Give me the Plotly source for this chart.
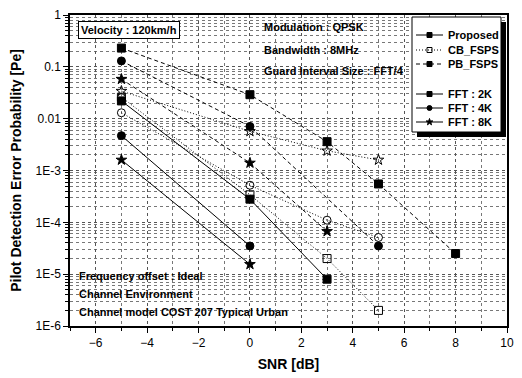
import plotly.graph_objects as go

# ---- data ----
prop_2k_x = [-5, 0, 3]
prop_2k_y = [0.022, 2.8e-4, 8e-6]
prop_4k_x = [-5, 0]
prop_4k_y = [0.0047, 3.5e-5]
prop_8k_x = [-5, 0]
prop_8k_y = [0.0016, 1.55e-5]

cb_2k_x = [-5, 0, 3, 5]
cb_2k_y = [0.026, 3.4e-4, 2.0e-5, 2.0e-6]
cb_4k_x = [-5, 0, 3, 5]
cb_4k_y = [0.013, 5.2e-4, 1.1e-4, 5.1e-5]
cb_8k_x = [-5, 0, 3, 5]
cb_8k_y = [0.034, 5.7e-3, 2.4e-3, 1.6e-3]

pb_2k_x = [-5, 0, 3, 5, 8]
pb_2k_y = [0.23, 0.029, 0.0036, 5.5e-4, 2.5e-5]
pb_4k_x = [-5, 0, 5]
pb_4k_y = [0.13, 0.0071, 3.5e-5]
pb_8k_x = [-5, 0, 3]
pb_8k_y = [0.058, 0.0014, 6.7e-5]

y_tickvals = [1, 0.1, 0.01, 1e-3, 1e-4, 1e-5, 1e-6]
y_ticktext = ["1", "0.1", "0.01", "1E-3", "1E-4", "1E-5", "1E-6"]

legend_methods = ["Proposed", "CB_FSPS", "PB_FSPS"]
legend_ffts = ["FFT : 2K", "FFT : 4K", "FFT : 8K"]

FONT = "Liberation Sans, Arial, sans-serif"
DASH = "4px,3px"
DOT = "1px,2px"

fig = go.Figure()

def add(x, y, dash, symbol):
    fig.add_trace(go.Scatter(
        x=x, y=y, mode="lines+markers", showlegend=False, hoverinfo="skip",
        line=dict(color="black", width=1, dash=dash),
        marker=dict(symbol=symbol, size=8, color="black",
                    line=dict(color="black", width=1))))

add(pb_2k_x, pb_2k_y, DASH, "square")
add(pb_4k_x, pb_4k_y, DASH, "circle")
add(pb_8k_x, pb_8k_y, DASH, "star")
add(cb_2k_x, cb_2k_y, DOT, "square-open")
add(cb_4k_x, cb_4k_y, DOT, "circle-open")
add(cb_8k_x, cb_8k_y, DOT, "star-open")
add(prop_2k_x, prop_2k_y, "solid", "square")
add(prop_4k_x, prop_4k_y, "solid", "circle")
add(prop_8k_x, prop_8k_y, "solid", "star")

# page layout (the page body has an 8px default margin)
OFF = 8
W, H = 522, 378
PL, PR, PT, PB = 70, 507, 15, 326   # plot area in page pixels
L, T = PL - OFF, PT - OFF
R, B = W - (PR - OFF), H - (PB - OFF)
pw, ph = PR - PL, PB - PT

def px(x):
    return (x - PL) / pw

def py(y):
    return (PB - y) / ph

# ---- hand-drawn legend on an overlay (paper-like) axis ----
bx0, bx1, by0, by1 = 412, 501, 17, 132
sh = 5

def rect(x0, x1, y0, y1, fill, line_w):
    fig.add_trace(go.Scatter(
        x=[px(x0), px(x1), px(x1), px(x0), px(x0)],
        y=[py(y0), py(y0), py(y1), py(y1), py(y0)],
        mode="lines", fill="toself", fillcolor=fill, hoverinfo="skip",
        line=dict(color="black", width=line_w), showlegend=False,
        xaxis="x2", yaxis="y2"))

rect(bx0 + sh, bx1 + sh, by0 + sh, by1 + sh, "black", 0)
rect(bx0, bx1, by0, by1, "white", 1)

rows = [35, 50, 64, 94, 108, 122]
names = legend_methods + legend_ffts
dashes = ["solid", DOT, DASH, "solid", "solid", "solid"]
syms = ["square", "square-open", "square", "square", "circle", "star"]
anns = []
for r, n, d, s in zip(rows, names, dashes, syms):
    fig.add_trace(go.Scatter(
        x=[px(416), px(443)], y=[py(r), py(r)], mode="lines",
        line=dict(color="black", width=1, dash=d), showlegend=False,
        hoverinfo="skip", xaxis="x2", yaxis="y2"))
    fig.add_trace(go.Scatter(
        x=[px(429.5)], y=[py(r)], mode="markers", showlegend=False,
        hoverinfo="skip", xaxis="x2", yaxis="y2",
        marker=dict(symbol=s, size=5, color="black",
                    line=dict(color="black", width=1))))
    anns.append(dict(text="<b>%s</b>" % n, x=px(446), y=py(r), xref="paper",
                     yref="paper", xanchor="left", yanchor="middle",
                     showarrow=False, font=dict(size=11, family=FONT, color="black")))

notes = [
    ("Modulation : QPSK", 262, 27),
    ("Bandwidth : 8MHz", 262, 50),
    ("Guard Interval Size : FFT/4", 262, 71),
    ("Frequency offset : Ideal", 77, 276),
    ("Channel Environment", 77, 294),
    ("Channel model COST 207 Typical Urban", 77, 312),
]
for t, x, y in notes:
    anns.append(dict(text="<b>%s</b>" % t, x=px(x), y=py(y), xref="paper",
                     yref="paper", xanchor="left", yanchor="middle",
                     showarrow=False, font=dict(size=11, family=FONT, color="black")))
anns.append(dict(text="<b>Velocity : 120km/h</b>", x=px(78), y=py(21), xref="paper",
                 yref="paper", xanchor="left", yanchor="top", showarrow=False,
                 bordercolor="black", borderwidth=1, bgcolor="white", borderpad=2,
                 font=dict(size=11, family=FONT, color="black")))

minor_y = [k * 10.0 ** e for e in range(-6, 0) for k in range(2, 10)]

xaxis = dict(
    range=[-7, 10], dtick=2, tick0=0, showline=True, linecolor="black",
    linewidth=1.5, mirror=True, ticks="outside", ticklen=5, tickcolor="black",
    showgrid=True, gridcolor="#555", griddash="dot", gridwidth=1, zeroline=False,
    tickfont=dict(size=12, family=FONT), automargin=False,
    minor=dict(dtick=1, ticks="outside", ticklen=3, showgrid=True,
               gridcolor="#777", griddash="dot"),
    title=dict(text="<b>SNR [dB]</b>", font=dict(size=14, family=FONT), standoff=10),
)
yaxis = dict(
    type="log", range=[-6, 0], tickvals=y_tickvals, ticktext=y_ticktext,
    showline=True, linecolor="black", linewidth=1.5, mirror=True,
    ticks="outside", ticklen=5, tickcolor="black", automargin=False,
    showgrid=True, gridcolor="#555", griddash="dot", zeroline=False,
    tickfont=dict(size=12, family=FONT),
    minor=dict(tickvals=minor_y, ticks="outside", ticklen=3, showgrid=True,
               gridcolor="#777", griddash="dot"),
    title=dict(text="<b>Pilot Detection Error Probability [Pe]</b>",
               font=dict(size=14, family=FONT), standoff=11),
)

fig.update_layout(
    width=W, height=H,
    margin=dict(l=L, r=R, t=T, b=B, autoexpand=False),
    paper_bgcolor="white", plot_bgcolor="white",
    font=dict(family=FONT, color="black"),
    annotations=anns, showlegend=False,
    xaxis=xaxis, yaxis=yaxis,
    xaxis2=dict(overlaying="x", range=[0, 1], visible=False, fixedrange=True),
    yaxis2=dict(overlaying="y", range=[0, 1], visible=False, fixedrange=True),
)

fig.write_html("out.html")
